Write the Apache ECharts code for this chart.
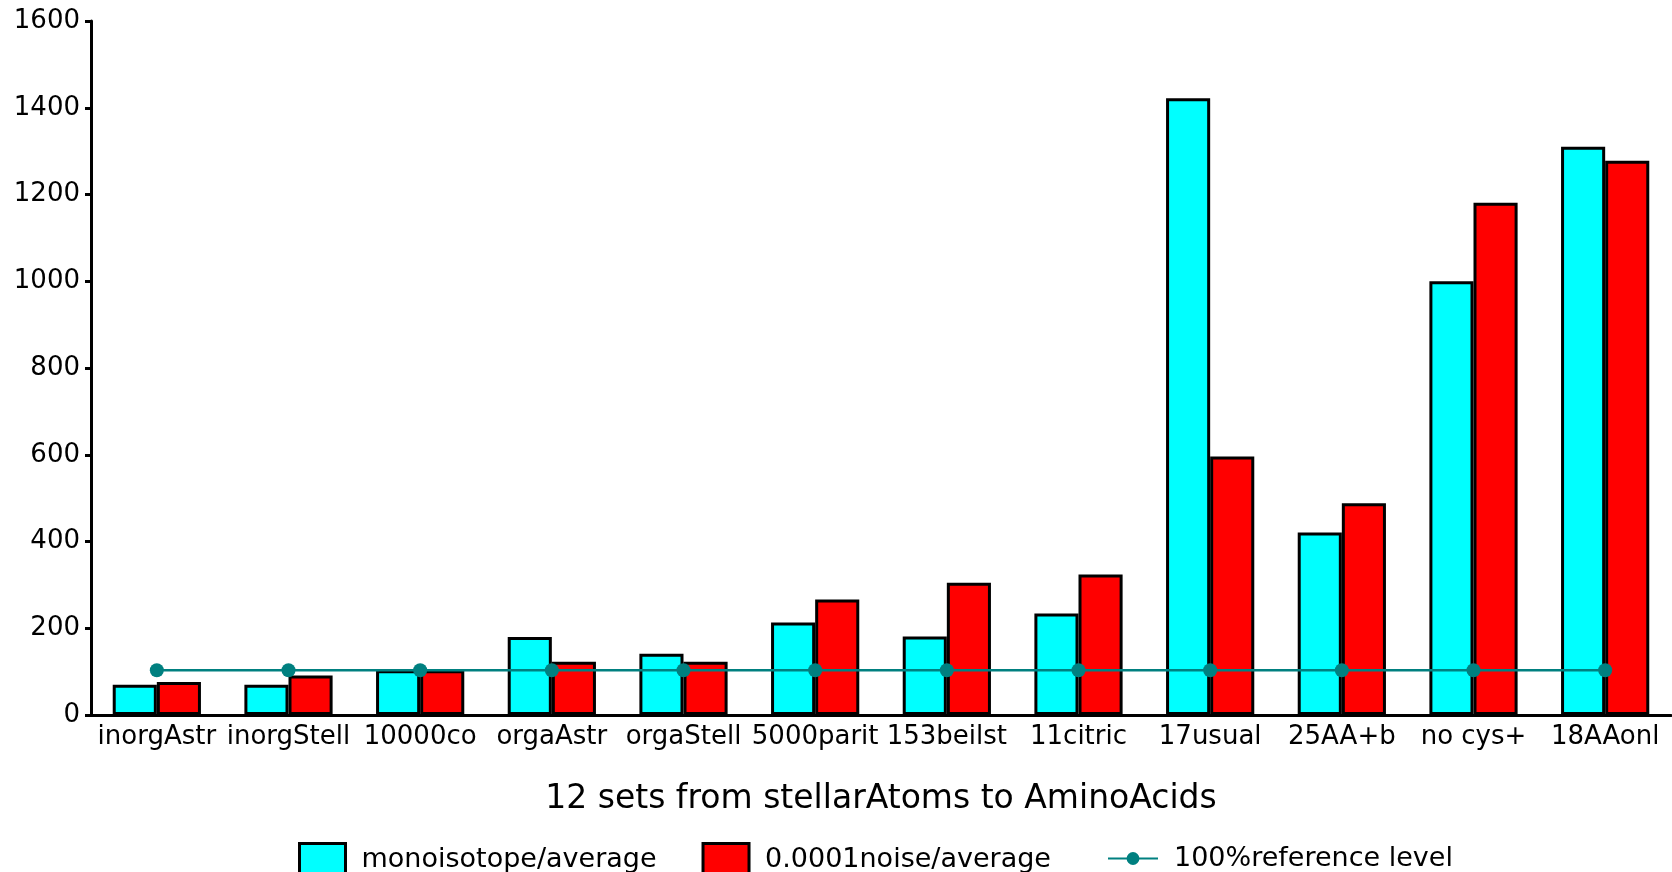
<!DOCTYPE html>
<html>
<head>
<meta charset="utf-8">
<title>12 sets from stellarAtoms to AminoAcids</title>
<script src="https://cdn.jsdelivr.net/npm/echarts@6/dist/echarts.min.js"></script>
<style>
  html, body { margin: 0; padding: 0; background: #fff; }
  #chart { width: 1672px; height: 872px; }
</style>
</head>
<body>
<div id="chart"></div>
<script>
// values
const categories = ['inorgAstr', 'inorgStell', '10000co', 'orgaAstr', 'orgaStell', '5000parit',
  '153beilst', '11citric', '17usual', '25AA+b', 'no cys+', '18AAonl']
const monoisotope = [70, 70, 103, 180, 141, 213, 181, 234, 1422, 421, 1000, 1310]
const noise = [76, 91, 103, 123, 123, 266, 305, 324, 596, 488, 1181, 1278]
const referenceLevel = [103, 103, 103, 103, 103, 103, 103, 103, 103, 103, 103, 103]
const yTickLabels = [0, 200, 400, 600, 800, 1000, 1200, 1400, 1600]

const seriesNames = ['monoisotope/average', '0.0001noise/average', '100%reference level']
const FONT = 'DejaVu Sans'

const chart = echarts.init(document.getElementById('chart'))

const legendText = {
  fontFamily: FONT,
  fontSize: 27,
  color: '#000',
  padding: [0, 0, 0, 11]
}

const option = {
  backgroundColor: '#fff',
  animation: false,
  grid: {
    left: 91,
    right: 1,
    top: 21,
    bottom: 157,
    outerBoundsMode: 'none'
  },
  legend: [
    {
      // bar swatches, cut off by the bottom edge like the original
      left: 298,
      top: 842,
      padding: 0,
      itemWidth: 46,
      itemHeight: 32,
      itemGap: 45,
      textStyle: legendText,
      data: [
        { name: seriesNames[0], icon: 'rect', itemStyle: { color: '#00ffff', borderColor: '#000', borderWidth: 3 } },
        { name: seriesNames[1], icon: 'rect', itemStyle: { color: '#ff0000', borderColor: '#000', borderWidth: 3 } }
      ]
    },
    {
      // separate legend so the line icon keeps a small dot
      left: 1107,
      top: 845,
      padding: 0,
      itemWidth: 50,
      itemHeight: 16,
      textStyle: legendText,
      data: [seriesNames[2]]
    }
  ],
  xAxis: {
    type: 'category',
    data: categories,
    name: '12 sets from stellarAtoms to AminoAcids',
    nameLocation: 'middle',
    nameGap: 68,
    nameTextStyle: { fontFamily: FONT, fontSize: 33, color: '#000' },
    axisLine: { lineStyle: { color: '#000', width: 3 } },
    axisTick: { inside: true, length: 7, lineStyle: { color: '#000', width: 2.5 } },
    axisLabel: { interval: 0, margin: 9, fontFamily: FONT, fontSize: 26, color: '#000' },
    splitLine: { show: false }
  },
  yAxis: {
    type: 'value',
    min: yTickLabels[0],
    max: yTickLabels[yTickLabels.length - 1],
    interval: yTickLabels[1] - yTickLabels[0],
    axisLine: { show: true, lineStyle: { color: '#000', width: 3 } },
    axisTick: { show: true, length: 6, lineStyle: { color: '#000', width: 3 } },
    axisLabel: {
      margin: 11,
      fontFamily: FONT,
      fontSize: 26,
      color: '#000',
      formatter: (v) => String(v)
    },
    splitLine: { show: false }
  },
  series: [
    {
      name: seriesNames[0],
      type: 'bar',
      data: monoisotope,
      barWidth: '33.5%',
      barGap: '0%',
      itemStyle: { color: '#00ffff', borderColor: '#000', borderWidth: 3 }
    },
    {
      name: seriesNames[1],
      type: 'bar',
      data: noise,
      barWidth: '33.5%',
      barGap: '0%',
      itemStyle: { color: '#ff0000', borderColor: '#000', borderWidth: 3 }
    },
    {
      name: seriesNames[2],
      type: 'line',
      data: referenceLevel,
      symbol: 'circle',
      symbolSize: 14,
      z: 5,
      lineStyle: { color: '#008080', width: 2.5 },
      itemStyle: { color: '#008080' }
    }
  ]
}

chart.setOption(option)
window.addEventListener('resize', () => chart.resize())
</script>
</body>
</html>
